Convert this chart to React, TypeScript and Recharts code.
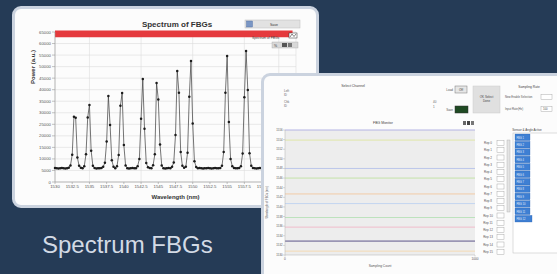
import React from 'react';
import { LineChart, Line, XAxis, YAxis, CartesianGrid, ReferenceArea, Label } from 'recharts';

// spectrum samples: one reading every 0.25 nm starting at 1530 nm
const START_WL = 1530;
const STEP_WL = 0.25;
const power = [
  6100, 6000, 5900, 6000, 6100, 6000, 5900, 6000, // 1530
  6200, 7200, 11800, 28300, 27800, 10600, 7000, 6200, // 1532
  6000, 6800, 12000, 28000, 33400, 13500, 7000, 6100, // 1534
  5900, 6000, 6000, 6100, 6600, 8300, 17500, 37300, // 1536
  24700, 9400, 6600, 6000, 6800, 11700, 33000, 38600, // 1538
  16000, 7200, 6000, 5900, 6000, 6100, 6000, 6000, // 1540
  6800, 10000, 27400, 44600, 23100, 8200, 6400, 6100, // 1542
  6000, 7300, 12000, 42900, 35800, 16300, 7200, 6000, // 1544
  5900, 6000, 6100, 6000, 6600, 8500, 20400, 48100, // 1546
  38700, 13000, 7000, 6200, 6600, 12700, 36900, 52400, // 1548
  25400, 9000, 6500, 6000, 6100, 6000, 5900, 6000, // 1550
  6000, 6100, 6000, 5900, 6000, 6100, 6000, 6000, // 1552
  6100, 7000, 13000, 38700, 54600, 26000, 10000, 6800, // 1554
  6100, 6000, 6000, 6100, 6800, 12300, 36700, 56800, // 1556
  39900, 12500, 7000, 6100, 6000, 5900, 6000, 6100, // 1558
  6000, 6000, 5900, 6100, 6000, 6000, 6100, 6000, // 1560
  5900, 6000, 6100, 6000, 6000, 5900, 6000, 6100, // 1562
  6000, 6000, 6100, 6000, 6000, // 1564
];
const wlTicks = [1530, 1532.5, 1535, 1537.5, 1540, 1542.5, 1545, 1547.5, 1550, 1552.5, 1555, 1557.5, 1560, 1562.5, 1565];
const powerTicks = [0, 5000, 10000, 15000, 20000, 25000, 30000, 35000, 40000, 45000, 50000, 55000, 60000, 65000];

// FBG monitor: wavelength reading of each grating over the sampling count
const sampleCounts = [0, 1000];
const fbgReadings = [
  [1556, 1556],
  [1553.9, 1553.9],
  [1548, 1548],
  [1546, 1546],
  [1542.7, 1542.7],
  [1540.7, 1540.7],
  [1537.8, 1537.8],
  [1535.8, 1535.8],
  [1532.9, 1532.9],
  [1530.8, 1530.8],
];
const fbgColors = ['#b4b4e4', '#dfe6a8', '#bcc6ea', '#c4e2a8', '#f2cba6', '#c4d6f0', '#bde2bd', '#f0bccb', '#9a96b4', '#f4dab4'];
const monitorTicks = [1530, 1532, 1534, 1536, 1538, 1540, 1542, 1544, 1546, 1548, 1550, 1552, 1554, 1556];
const repLabels = ['Rep 0', 'Rep 1', 'Rep 2', 'Rep 3', 'Rep 4', 'Rep 5', 'Rep 6', 'Rep 7', 'Rep 8', 'Rep 9', 'Rep 10', 'Rep 11', 'Rep 12', 'Rep 13', 'Rep 14', 'Rep 15'];
const sensorRows = ['FBG 1', 'FBG 2', 'FBG 3', 'FBG 4', 'FBG 5', 'FBG 6', 'FBG 7', 'FBG 8', 'FBG 9', 'FBG 10', 'FBG 11', 'FBG 12'];

const spectrum = power.map((p, i) => ({ wl: START_WL + i * STEP_WL, power: p }));
const monitor = sampleCounts.map((c, j) => {
  const row: Record<string, number> = { count: c };
  fbgReadings.forEach((r, k) => (row['ch' + k] = r[j]));
  return row;
});

const FONT = '"Liberation Sans", Arial, sans-serif';

const panel = (left: number, top: number, width: number, height: number): React.CSSProperties => ({
  position: 'absolute',
  left,
  top,
  width,
  height,
  background: '#fcfcfc',
  border: '3px solid #cbd3df',
  borderRadius: 9,
  boxSizing: 'border-box',
});

const PowerTitle = ({ viewBox }: any) => {
  const x = viewBox.x + 33;
  const y = viewBox.y + viewBox.height / 2 - 40;
  return (
    <text x={x} y={y} transform={`rotate(-90 ${x} ${y})`} textAnchor="middle" dominantBaseline="middle"
      fontSize={6} fontWeight="bold" fill="#333">Power (a.u.)</text>
  );
};

const MonitorTitle = ({ viewBox }: any) => {
  const x = viewBox.x + 4;
  const y = viewBox.y + viewBox.height / 2 + 10;
  return (
    <text x={x} y={y} transform={`rotate(-90 ${x} ${y})`} textAnchor="middle" dominantBaseline="middle"
      fontSize={2.8} fill="#555">Wavelength of FBGs (nm)</text>
  );
};

// labels past 1560 nm sit under the monitor window, so they are left blank
const wlLabel = (v: number) => (v > 1560 ? '' : String(v));

export default function App() {
  return (
    <div style={{ position: 'absolute', left: 0, top: 0, width: 557, height: 274, background: '#253b56', overflow: 'hidden', fontFamily: FONT }}>
      <div style={panel(12, 6, 307, 202)} />

      <div style={{ position: 'absolute', left: 0, top: 0 }}>
        <LineChart width={300} height={200} data={spectrum} margin={{ top: 32, right: 4, left: 0, bottom: 0 }}>
          <CartesianGrid stroke="#dcdcdc" strokeWidth={0.6} />
          <ReferenceArea y1={62700} y2={65600} x1={1530} x2={1564.5} fill="#e5393d" fillOpacity={1} stroke="none" ifOverflow="visible" />
          <XAxis dataKey="wl" type="number" domain={[1530, 1565]} ticks={wlTicks} height={18} tickFormatter={wlLabel}
            tick={{ fontSize: 4.3, fill: '#555' }} tickSize={2} tickMargin={1} stroke="#999" strokeWidth={0.6}>
            <Label value="Wavelength (nm)" position="insideBottom" offset={1} fontSize={6} fontWeight="bold" fill="#333" />
          </XAxis>
          <YAxis type="number" domain={[0, 65000]} ticks={powerTicks} width={55} interval={0}
            tick={{ fontSize: 4.3, fill: '#555' }} tickSize={3} tickMargin={1} stroke="#999" strokeWidth={0.6}>
            <Label content={<PowerTitle />} />
          </YAxis>
          <Line dataKey="power" type="linear" stroke="#3a3a3a" strokeWidth={0.7}
            dot={{ r: 1.25, fill: '#1c1c1c', stroke: 'none' }} isAnimationActive={false} />
        </LineChart>
      </div>

      <svg width={557} height={274} style={{ position: 'absolute', left: 0, top: 0 }}>
        <text x={177} y={27} textAnchor="middle" fontSize={8} fontWeight="bold" fill="#333">Spectrum of FBGs</text>
        <rect x={245} y={20} width={55} height={8} fill="#e2e2e2" stroke="#bdbdbd" strokeWidth={0.5} />
        <rect x={246.5} y={21} width={6} height={6} fill="#7a96c4" stroke="#4a68a0" strokeWidth={0.4} />
        <text x={274} y={25.5} textAnchor="middle" fontSize={3.5} fill="#333">Save</text>
        <text x={252} y={39} fontSize={3.3} fill="#444">Spectrum of FBGs</text>
        <rect x={289} y={33} width={8} height={5} fill="#fff" stroke="#333" strokeWidth={0.5} />
        <polyline points="290,37 292,34 294,36.5 296,34" fill="none" stroke="#333" strokeWidth={0.6} />
        <rect x={272} y={42} width={26} height={6} fill="#d8d8d8" stroke="#aaa" strokeWidth={0.4} />
        <rect x={282} y={43} width={5} height={4} fill="#555" />
        <rect x={288} y={43} width={4} height={4} fill="#777" />
        <text x={274} y={46.5} fontSize={3.5} fill="#333">%</text>
        <text x={42} y={253} fontSize={24} fill="#d3dae5" fontFamily={FONT}>Spectrum FBGs</text>
      </svg>

      <div style={panel(261, 73, 310, 215)} />

      <div style={{ position: 'absolute', left: 263, top: 100 }}>
        <LineChart width={222} height={170} data={monitor} margin={{ top: 30, right: 10, left: 0, bottom: 0 }}>
          <CartesianGrid fill="#ededed" horizontal={false} vertical={false} />
          <XAxis dataKey="count" type="number" domain={[0, 1000]} ticks={sampleCounts} height={15}
            tick={{ fontSize: 3.2, fill: '#555' }} tickSize={1.5} tickMargin={1} stroke="#b0b0b0" strokeWidth={0.5}>
            <Label value="Sampling Count" position="insideBottom" offset={3} fontSize={3.2} fill="#555" />
          </XAxis>
          <YAxis type="number" domain={[1530, 1556]} ticks={monitorTicks} width={22} interval={0}
            tick={{ fontSize: 2.8, fill: '#555' }} tickSize={2} tickMargin={0.5} stroke="#b0b0b0" strokeWidth={0.5}>
            <Label content={<MonitorTitle />} />
          </YAxis>
          {fbgReadings.map((_, k) => (
            <Line key={k} dataKey={'ch' + k} type="linear" stroke={fbgColors[k]} strokeWidth={k === 8 ? 1.8 : 1}
              dot={false} isAnimationActive={false} />
          ))}
        </LineChart>
      </div>

      <svg width={557} height={274} style={{ position: 'absolute', left: 0, top: 0 }}>
        <text x={353} y={87} textAnchor="middle" fontSize={3.5} fill="#444">Select Channel</text>
        <text x={284} y={92} fontSize={3} fill="#666">Left</text>
        <text x={284} y={96} fontSize={3} fill="#666">ID</text>
        <text x={284} y={103} fontSize={3} fill="#666">Chk</text>
        <text x={284} y={107} fontSize={3} fill="#666">ID</text>
        <text x={433} y={103} fontSize={3} fill="#666">40</text>
        <text x={433} y={108} fontSize={3} fill="#666">1</text>
        <text x={453} y={91} textAnchor="end" fontSize={3} fill="#555">Load</text>
        <rect x={455} y={86} width={12} height={7} fill="#e6e6e6" stroke="#777" strokeWidth={0.5} />
        <text x={461} y={90.8} textAnchor="middle" fontSize={3} fill="#333">Off</text>
        <text x={453} y={111} textAnchor="end" fontSize={3} fill="#555">Save</text>
        <rect x={455} y={106} width={13} height={7} fill="#1f4a23" stroke="#333" strokeWidth={0.5} />
        <rect x={473} y={86} width={27} height={27} fill="#e0e0e0" stroke="#cacaca" strokeWidth={0.5} />
        <text x={486.5} y={98} textAnchor="middle" fontSize={3} fill="#444">OK Select</text>
        <text x={486.5} y={102} textAnchor="middle" fontSize={3} fill="#444">Done</text>
        <text x={529} y={88} textAnchor="middle" fontSize={3.3} fill="#444">Sampling Rate</text>
        <text x={505} y={98} fontSize={2.8} fill="#555">New Enable Selection</text>
        <rect x={541} y={94.5} width={11} height={5} fill="#fff" stroke="#999" strokeWidth={0.4} />
        <text x={505} y={110} fontSize={2.8} fill="#555">Input Rate(Hz)</text>
        <rect x={541} y={106.5} width={11} height={5} fill="#fff" stroke="#999" strokeWidth={0.4} />
        <text x={543} y={110} fontSize={2.8} fill="#555">100</text>
        <text x={383} y={124} textAnchor="middle" fontSize={3.5} fill="#444">FBG Monitor</text>
        <rect x={463} y={121} width={3} height={4} fill="#666" />
        <rect x={467} y={121} width={3} height={4} fill="#444" />
        <rect x={471} y={121} width={3} height={4} fill="#777" />
        <text x={527} y={131} textAnchor="middle" fontSize={3} fill="#444">Sensor &amp; Angle Active</text>
        <rect x={513} y={133} width={50} height={120} fill="#fff" stroke="#bbb" strokeWidth={0.5} />
        {sensorRows.map((s, i) => (
          <g key={s}>
            <rect x={515} y={134 + i * 7.4} width={i === sensorRows.length - 1 ? 17 : 15} height={6.6} fill="#3e7fd3" stroke="#2c62ad" strokeWidth={0.3} />
            <text x={516.5} y={138.5 + i * 7.4} fontSize={2.6} fill="#e8f0fb">{s}</text>
          </g>
        ))}
        {repLabels.map((r, i) => (
          <g key={r}>
            <text x={488} y={144 + i * 7.25} textAnchor="middle" fontSize={3} fill="#555">{r}</text>
            <rect x={497} y={140.5 + i * 7.25} width={7} height={5} fill="#fff" stroke="#999" strokeWidth={0.4} />
          </g>
        ))}
        <rect x={507} y={140} width={3} height={72} fill="#e4e4e4" stroke="#aaa" strokeWidth={0.4} />
      </svg>
    </div>
  );
}
